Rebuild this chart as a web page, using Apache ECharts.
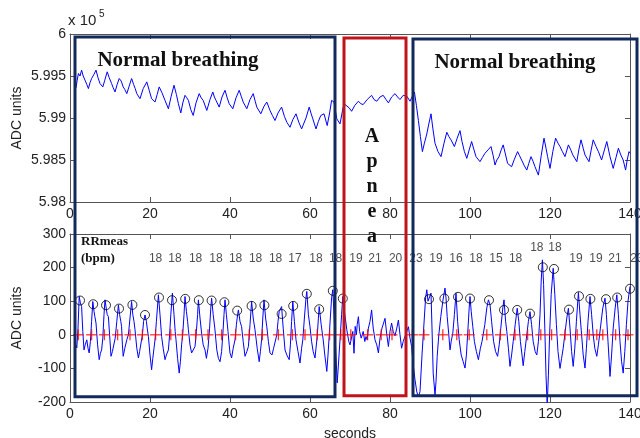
<!DOCTYPE html>
<html><head><meta charset="utf-8">
<script src="https://cdn.jsdelivr.net/npm/echarts@6/dist/echarts.min.js"></script>
<style>html,body{margin:0;padding:0;background:#fff}#c{width:640px;height:438px}</style>
</head><body><div id="c"></div>
<script>
// ---------- data ----------
const xTicks = [0, 20, 40, 60, 80, 100, 120, 140];
const topYTicks = [5.98, 5.985, 5.99, 5.995, 6];          // x 10^5 ADC units
const botYTicks = [-200, -100, 0, 100, 200, 300];

// raw signal (x 10^5 ADC units) vs seconds
const topSignal = [[1.5,5.9936],[1.8,5.9945],[2.1,5.9953],[2.5,5.9950],[2.9,5.9957],[3.3,5.9950],[3.75,5.9945],[4.2,5.9940],[4.6,5.9935],[5.0,5.9942],[5.4,5.9947],[6.0,5.9952],[6.5,5.9957],[7.0,5.9948],[7.5,5.9941],[8.2,5.9937],[8.7,5.9945],[9.3,5.9955],[9.8,5.9948],[10.4,5.9941],[10.8,5.9936],[11.25,5.9931],[11.8,5.9940],[12.3,5.9947],[12.8,5.9944],[13.3,5.9937],[13.7,5.9934],[14.2,5.9929],[14.8,5.9938],[15.4,5.9947],[15.9,5.9940],[16.3,5.9935],[16.7,5.9929],[17.5,5.9923],[18.3,5.9935],[19.2,5.9943],[19.8,5.9933],[20.4,5.9923],[21.25,5.9919],[21.8,5.9928],[22.3,5.9937],[23.0,5.9930],[23.75,5.9921],[24.6,5.9911],[25.3,5.9926],[26.0,5.9939],[26.6,5.9928],[27.1,5.9917],[27.7,5.9906],[28.2,5.9918],[28.75,5.9927],[29.2,5.9924],[29.6,5.9921],[30.2,5.9910],[30.8,5.9903],[31.5,5.9918],[32.3,5.9929],[32.8,5.9924],[33.3,5.9921],[34.2,5.9909],[35.0,5.9922],[35.7,5.9931],[36.1,5.9925],[36.5,5.9921],[37.3,5.9913],[38.0,5.9925],[38.75,5.9933],[39.3,5.9924],[39.8,5.9917],[40.7,5.9911],[41.5,5.9924],[42.3,5.9933],[42.8,5.9926],[43.3,5.9919],[44.2,5.9911],[45.0,5.9922],[45.8,5.9929],[46.3,5.9920],[46.7,5.9913],[47.7,5.9905],[48.5,5.9914],[49.2,5.9919],[50.0,5.9909],[50.6,5.9903],[51.25,5.9897],[52.0,5.9906],[52.9,5.9913],[53.6,5.9902],[54.2,5.9895],[55.0,5.9889],[55.7,5.9898],[56.5,5.9905],[57.2,5.9895],[57.9,5.9887],[58.3,5.9885],[59.0,5.9900],[59.8,5.9913],[60.3,5.9905],[60.7,5.9899],[61.5,5.9887],[62.1,5.9896],[62.7,5.9903],[63.1,5.9901],[63.5,5.9905],[64.3,5.9891],[64.9,5.9906],[65.4,5.9921],[66.0,5.9919],[66.7,5.9899],[67.5,5.9893],[68.3,5.9913],[68.75,5.9916],[69.2,5.9917],[69.8,5.9912],[70.4,5.9908],[71.2,5.9915],[72.1,5.9920],[72.7,5.9917],[73.3,5.9916],[74.3,5.9922],[75.4,5.9927],[76.0,5.9922],[76.7,5.9920],[77.5,5.9925],[78.3,5.9927],[79.0,5.9922],[79.6,5.9918],[80.4,5.9925],[81.25,5.9929],[81.9,5.9925],[82.5,5.9922],[83.3,5.9927],[84.2,5.9926],[85.0,5.9920],[85.6,5.9926],[86.1,5.9931],[86.6,5.9915],[87.1,5.9897],[87.6,5.9878],[88.1,5.9860],[88.6,5.9870],[89.2,5.9881],[89.7,5.9893],[90.25,5.9905],[90.7,5.9888],[91.25,5.9870],[92.0,5.9860],[92.75,5.9854],[93.5,5.9870],[94.2,5.9883],[94.7,5.9878],[95.25,5.9874],[96.1,5.9866],[96.8,5.9876],[97.5,5.9885],[98.0,5.9872],[98.6,5.9860],[99.2,5.9852],[99.8,5.9862],[100.4,5.9872],[101.0,5.9862],[101.5,5.9854],[102.5,5.9848],[103.1,5.9853],[103.75,5.9858],[104.5,5.9862],[105.25,5.9866],[105.8,5.9855],[106.25,5.9844],[106.7,5.9850],[107.25,5.9854],[107.8,5.9862],[108.3,5.9868],[108.9,5.9856],[109.4,5.9846],[110.4,5.9842],[111.1,5.9851],[111.9,5.9860],[112.4,5.9855],[112.9,5.9850],[113.6,5.9843],[114.2,5.9838],[114.7,5.9846],[115.25,5.9854],[115.8,5.9848],[116.25,5.9842],[117.1,5.9832],[117.8,5.9855],[118.5,5.9876],[119.0,5.9864],[119.4,5.9854],[120.0,5.9840],[120.7,5.9860],[121.4,5.9876],[122.0,5.9870],[122.5,5.9866],[123.1,5.9860],[123.75,5.9854],[124.6,5.9868],[125.2,5.9862],[125.7,5.9856],[126.7,5.9848],[127.2,5.9862],[127.75,5.9874],[128.3,5.9864],[128.75,5.9856],[129.75,5.9848],[130.3,5.9862],[130.8,5.9874],[131.5,5.9866],[132.1,5.9860],[132.9,5.9850],[133.6,5.9862],[134.2,5.9872],[135.0,5.9854],[135.8,5.9840],[136.5,5.9853],[137.1,5.9864],[137.7,5.9856],[138.3,5.9850],[138.9,5.9838],[139.3,5.9850],[139.75,5.9860],[140,5.9858]];

// filtered signal (ADC units) vs seconds
const botSignal = [[1.5,-30],[1.7,-39],[2.0,20],[2.3,114],[2.6,95],[2.9,84],[3.2,10],[3.5,-45],[3.8,-30],[4.2,-15],[4.5,-40],[4.8,-54],[5.1,-20],[5.4,40],[5.7,99],[6.0,70],[6.2,55],[6.5,35],[6.9,-30],[7.3,-74],[7.6,-55],[7.9,-45],[8.2,-10],[8.5,60],[8.75,104],[9.1,75],[9.3,60],[9.6,54],[9.9,0],[10.25,-64],[10.6,-50],[11.0,-45],[11.3,-10],[11.7,40],[12.1,89],[12.4,60],[12.7,40],[12.9,24],[13.1,-30],[13.3,-64],[13.7,-40],[14.2,-15],[14.6,0],[15.0,50],[15.4,99],[15.7,60],[16.0,40],[16.25,15],[16.7,-40],[17.1,-69],[17.4,-50],[17.7,-45],[18.1,0],[18.4,40],[18.75,59],[19.1,40],[19.3,20],[19.6,-5],[20.0,-60],[20.4,-104],[20.7,-70],[21.0,-40],[21.25,-15],[21.6,40],[22.1,119],[22.5,60],[22.9,-5],[23.3,-40],[23.75,-74],[24.1,-60],[24.6,-45],[24.9,0],[25.2,60],[25.6,124],[26.0,60],[26.3,10],[26.5,-15],[26.9,-70],[27.3,-114],[27.6,-80],[27.9,-30],[28.2,5],[28.5,60],[28.75,114],[29.1,70],[29.4,40],[29.6,15],[30.0,-30],[30.4,-54],[30.8,-50],[31.25,-35],[31.6,10],[31.9,60],[32.1,104],[32.5,50],[32.9,5],[33.3,-30],[33.75,-45],[34.1,-70],[34.5,-40],[34.9,20],[35.2,80],
[35.4,109],[35.8,60],[36.2,20],[36.7,-45],[37.1,-70],[37.5,-80],[37.9,-50],[38.2,0],[38.5,60],[38.75,104],[39.1,60],[39.5,10],[39.8,-30],[40.0,-54],[40.4,-69],[40.8,-40],[41.25,-15],[41.6,30],[41.9,60],[42.1,74],[42.5,40],[42.9,24],[43.3,-20],[43.75,-64],[44.2,-50],[44.6,-35],[45.0,30],[45.4,99],[45.8,50],[46.25,15],[46.8,-40],[47.3,-80],[47.6,-50],[47.9,-15],[48.2,50],[48.5,104],[48.9,50],[49.2,24],[49.6,-20],[50.0,-54],[50.5,-60],[50.9,-40],[51.25,-45],[51.7,0],[52.0,40],[52.3,69],[52.9,84],[53.3,20],[53.75,-45],[54.2,-60],[54.8,-74],[55.1,-30],[55.4,40],[55.7,99],[56.1,40],[56.5,-15],[57.0,-50],[57.5,-84],[57.9,-40],[58.2,-15],[58.6,50],[59.0,110],[59.2,129],[59.6,60],[60.0,24],[60.4,-20],[60.8,-50],[61.25,-69],[61.5,-40],[61.8,-5],[62.1,50],[62.3,84],[62.8,30],[63.3,-15],[63.7,-60],[64.2,-109],[64.5,-60],[65.0,35],[65.4,110],[65.7,134],[66.0,60],[66.3,-10],[66.5,-64],[66.8,-143],[67.1,-90],[67.5,-15],[67.9,60],[68.2,114],[68.6,70],[69.2,15],[69.7,-20],[70.0,-30],
[70.4,-34],[70.7,10],[71.0,-55],[71.3,25],[71.6,0],[71.8,30],[72.1,54],[72.4,10],[72.8,-10],[73.3,10],[73.7,-20],[74.0,-5],[74.3,-15],[74.6,20],[75.0,40],[75.4,74],[75.8,20],[76.25,-15],[76.7,-30],[77.1,-54],[77.5,-10],[78.0,20],[78.4,35],[78.75,49],[79.2,0],[79.6,-35],[80.0,10],[80.4,35],[80.8,10],[81.25,-3],[81.7,20],[82.1,44],[82.5,0],[82.9,-40],[83.3,-20],[83.75,-15],[84.2,10],[84.6,24],[85.0,-10],[85.4,-35],[85.8,-90],
[86.25,-134],[86.7,-170],[87.1,-184],[87.5,-169],[88.0,-60],[88.5,35],[88.9,110],[89.2,134],[89.5,100],[89.8,104],[90.25,124],[90.5,20],[90.8,-114],[91.25,-179],[91.5,-140],[91.8,-64],[92.2,0],[92.7,54],[93.2,100],[93.75,139],[94.0,110],[94.3,54],[94.7,0],[95.0,-45],[95.3,-20],[95.7,5],[96.1,60],[96.5,124],[96.9,40],[97.3,-15],[97.8,-60],[98.3,-80],[98.75,-99],[99.1,-60],[99.5,20],[99.8,80],[100.0,114],[100.3,70],[100.7,24],[101.1,-20],[101.6,-50],[102.1,-74],[102.6,-40],[103.0,-20],[103.3,-15],[103.7,30],[104.2,80],[104.6,104],
[105.0,90],[105.4,40],[105.9,-20],[106.4,-50],[106.9,-64],[107.3,-30],[107.7,20],[108.2,80],[108.5,104],[108.9,40],[109.2,10],[109.6,-40],[110.0,-94],[110.4,-60],[110.8,-20],[111.3,30],[111.8,79],[112.2,40],[112.6,-20],[113.0,-60],[113.3,-92],[113.7,-50],[114.1,-10],[114.6,40],[115.0,69],[115.4,30],[115.8,-20],[116.3,-50],[116.7,-60],[117.1,-20],[117.5,60],[117.8,160],[118.1,223],[118.4,150],[118.7,20],[119.0,-120],[119.3,-210],[119.6,-120],[119.9,0],[120.3,120],[120.8,198],[121.2,120],[121.6,30],[122.0,-50],[122.5,-100],[122.9,-70],[123.3,-40],[123.8,10],[124.2,50],[124.6,79],[125.0,20],[125.4,-50],[125.8,-94],[126.2,-40],[126.6,40],[127.1,126],[127.5,60],[127.9,0],[128.3,-60],[128.75,-99],[129.1,-40],[129.5,40],[130.0,114],[130.4,60],[130.8,0],[131.2,-40],[131.7,-64],[132.1,-30],[132.6,20],[133.2,80],[133.75,109],[134.1,60],[134.5,-20],[134.8,-80],[135.0,-124],[135.4,-60],[135.8,20],[136.3,80],[136.7,119],[137.1,60],[137.5,-20],[137.9,-80],[138.3,-114],[138.7,-50],[139.1,30],[139.5,100],[140.0,144]];

// detected breath peaks (circles)
const peakCircles = [[2.5,102],[5.8,91],[9.0,88],[12.25,78],[15.6,89],[18.75,59],[22.25,111],[25.5,103],[28.8,107],[32.2,103],[35.4,102],[38.6,97],[41.8,72],[45.4,86],[48.6,88],[52.9,62],[55.8,86],[59.2,122],[62.3,76],[65.7,131],[68.2,108],[89.75,106],[93.6,108],[97,113],[100,108],[104.75,103],[108.5,74],[111.8,74],[115,63],[118.2,201],[121,196],[124.75,75],[127.25,115],[130.1,107],[134,106],[136.8,111],[140,137]];

// zero-crossing times (red +)
const zeroCrossTimes = [2.1,5.4,8.6,11.9,15,18.1,21.4,25.2,28.1,31.4,34.5,37.9,41.4,44.8,48.1,52.1,55.6,58.75,61.8,64.9,67.7,70.2,74.4,77.8,80.5,85.6,88.5,93.2,96.7,99.8,104.2,107.6,111.25,114.4,117.7,120.4,123.75,126.8,129.8,131.7,133.2,136.4,139.5];

// measured respiration rate labels (bpm)
const rateTimes  = [21.4,26.25,31.4,36.5,41.4,46.4,51.4,56.25,61.5,66.4,71.5,76.25,81.4,86.5,91.5,96.5,101.5,106.5,111.4,116.7,121.25,126.5,131.5,136.25,141.75];
const rateValues = [18,18,18,18,18,18,18,17,18,18,19,21,20,23,19,16,18,15,18,18,18,19,19,21,23];
const rateRaised = [false,false,false,false,false,false,false,false,false,false,false,false,false,false,false,false,false,false,false,true,true,false,false,false,false];

// annotated segments (seconds)
const segments = [
  {name:'Normal breathing', start:1.25, end:66.25},
  {name:'Apnea', start:68.5, end:84},
  {name:'Normal breathing', start:85.75, end:141.75}
];

// ---------- chart ----------
const FONT = '"Liberation Sans", Arial, sans-serif';
const SERIF = '"Liberation Serif", "Times New Roman", serif';
const AX = '#555';
const TXT = '#222';
const chart = echarts.init(document.getElementById('c'), null, {renderer:'canvas'});

function xAx(grid, pos, labels, name){
  return {type:'value', gridIndex:grid, position:pos, min:xTicks[0], max:xTicks[xTicks.length-1],
    interval:xTicks[1]-xTicks[0],
    axisLine:{show:true, onZero:false, lineStyle:{color:AX, width:1}},
    axisTick:{show:true, inside:true, length:5, lineStyle:{color:AX}},
    axisLabel:{show:labels, color:TXT, fontSize:14, fontFamily:FONT, margin:5, hideOverlap:false},
    splitLine:{show:false},
    name:name||'', nameLocation:'middle', nameGap:25, nameMoveOverlap:false,
    nameTextStyle:{color:TXT, fontSize:14, fontFamily:FONT}};
}
function yAx(grid, pos, ticks, labels, fmt){
  return {type:'value', gridIndex:grid, position:pos, min:ticks[0], max:ticks[ticks.length-1],
    interval:+(ticks[1]-ticks[0]).toFixed(6),
    axisLine:{show:true, onZero:false, lineStyle:{color:AX, width:1}},
    axisTick:{show:true, inside:true, length:5, lineStyle:{color:AX}},
    axisLabel:{show:labels, color:TXT, fontSize:14, fontFamily:FONT, margin:4, formatter:fmt},
    splitLine:{show:false},
    name:labels ? 'ADC units' : '', nameLocation:'middle', nameGap:46, nameMoveOverlap:false,
    nameTextStyle:{color:TXT, fontSize:14, fontFamily:FONT}};
}
const topFmt = v => String(parseFloat((+v).toFixed(3)));
const plusItem = {color:'#ff0000'};

const option = {
  animation:false,
  backgroundColor:'#fff',
  grid:[
    {left:70, top:34, width:560, height:168, containLabel:false, outerBoundsMode:'none'},
    {left:70, top:234, width:560, height:168, containLabel:false, outerBoundsMode:'none'}
  ],
  xAxis:[
    xAx(0,'bottom',true), xAx(1,'bottom',true,'seconds'),
    xAx(0,'top',false), xAx(1,'top',false)
  ],
  yAxis:[
    yAx(0,'left',topYTicks,true,topFmt), yAx(1,'left',botYTicks,true),
    yAx(0,'right',topYTicks,false), yAx(1,'right',botYTicks,false)
  ],
  series:[
    {type:'line', xAxisIndex:0, yAxisIndex:0, data:topSignal, showSymbol:false, symbol:'none',
      lineStyle:{color:'#0000ff', width:1}, z:2},
    {type:'line', xAxisIndex:1, yAxisIndex:1, data:botSignal, showSymbol:false, symbol:'none',
      lineStyle:{color:'#0000ff', width:1}, z:2},
    {type:'scatter', xAxisIndex:1, yAxisIndex:1, data:zeroCrossTimes.map(t=>[t,0]),
      symbol:'rect', symbolSize:[11,1.3], itemStyle:plusItem, z:3},
    {type:'scatter', xAxisIndex:1, yAxisIndex:1, data:zeroCrossTimes.map(t=>[t,0]),
      symbol:'rect', symbolSize:[1.3,11], itemStyle:plusItem, z:3},
    {type:'scatter', xAxisIndex:1, yAxisIndex:1, data:peakCircles, symbol:'circle', symbolSize:9,
      itemStyle:{color:'rgba(0,0,0,0)', borderColor:'#000', borderWidth:1}, z:4, clip:false},
    {type:'scatter', xAxisIndex:1, yAxisIndex:1, clip:false, symbolSize:1,
      data:rateTimes.map((t,i)=>[t, rateRaised[i]?259:226, rateValues[i]]),
      itemStyle:{color:'rgba(0,0,0,0)'},
      label:{show:true, position:'inside', formatter:p=>String(p.data[2]), color:TXT, fontSize:12, fontFamily:FONT}, z:5}
  ]
};
chart.setOption(option);

// annotations anchored in data coordinates
const topP = (x,y)=>chart.convertToPixel({seriesIndex:0},[x,y]);
const botP = (x,y)=>chart.convertToPixel({seriesIndex:1},[x,y]);
const boxStyle = [
  {top:5.99964, bottom:-184.5, color:'#13295c'},
  {top:5.99952, bottom:-181.5, color:'#c0141c'},
  {top:5.9994,  bottom:-181.5, color:'#13295c'}
];
const g = [];
segments.forEach((s,i)=>{
  const p0 = topP(s.start, boxStyle[i].top), p1 = botP(s.end, boxStyle[i].bottom);
  g.push({type:'rect', z:100, shape:{x:p0[0], y:p0[1], width:p1[0]-p0[0], height:p1[1]-p0[1]},
    style:{fill:'none', stroke:boxStyle[i].color, lineWidth:3}});
});
function txt(p, text, font, align, extra){
  return Object.assign({type:'text', z:101, x:p[0], y:p[1],
    style:Object.assign({text:text, font:font, fill:'#111', textAlign:align, align:align,
      textVerticalAlign:'middle', verticalAlign:'middle'}, extra||{})});
}
g.push(txt(topP(27, 5.99679), segments[0].name, 'bold 21px '+SERIF, 'center'));
g.push(txt(topP(111.25, 5.99655), segments[2].name, 'bold 21px '+SERIF, 'center'));
g.push(txt(topP(75.5, 5.98179), segments[1].name.split('').join('\n'), 'bold 20px '+SERIF, 'center', {lineHeight:25}));
g.push(txt(botP(2.75, 277), 'RRmeas', 'bold 13px '+SERIF, 'left'));
g.push(txt(botP(2.75, 226), '(bpm)', 'bold 13px '+SERIF, 'left'));
g.push({type:'text', z:101, x:68, y:21, style:{text:'x 10', font:'15px '+FONT, fill:TXT, textAlign:'left', align:'left', textVerticalAlign:'middle', verticalAlign:'middle'}});
g.push({type:'text', z:101, x:99, y:14, style:{text:'5', font:'10px '+FONT, fill:TXT, textAlign:'left', align:'left', textVerticalAlign:'middle', verticalAlign:'middle'}});
chart.setOption({graphic:g});
</script>
</body></html>
